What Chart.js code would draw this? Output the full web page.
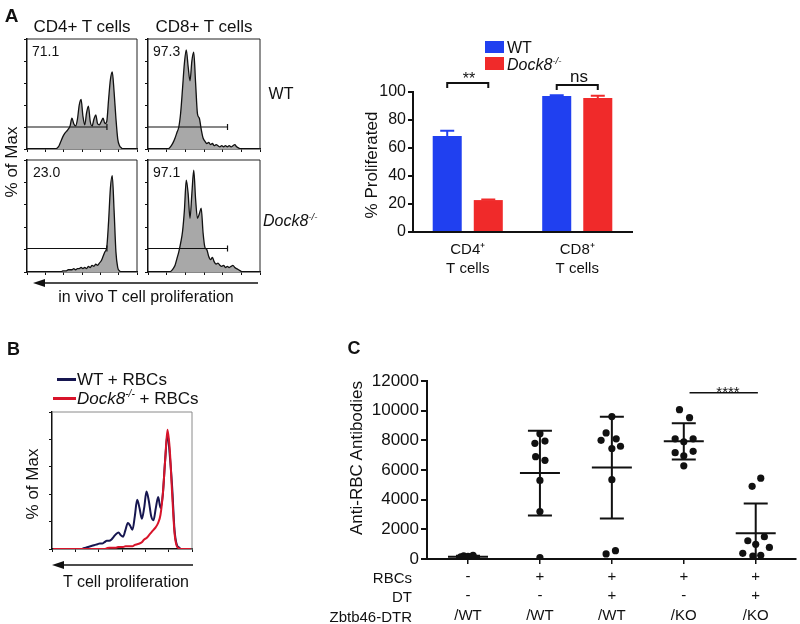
<!DOCTYPE html>
<html><head><meta charset="utf-8">
<script src="https://cdn.jsdelivr.net/npm/chart.js@4.4.1/dist/chart.umd.min.js"></script>
<style>
html,body{margin:0;padding:0;background:#fff;}
#root{position:relative;width:800px;height:624px;overflow:hidden;font-family:'Liberation Sans',Arial,sans-serif;color:#111;}
canvas{position:absolute;left:0;top:0;}
.t{position:absolute;white-space:nowrap;line-height:1;}
.c{transform:translate(-50%,-50%);}
.l{transform:translate(0,-50%);}
.r{transform:translate(-100%,-50%);}
.rot{transform:translate(-50%,-50%) rotate(-90deg);}
.b{font-weight:bold;}
sup{font-size:0.6em;vertical-align:0.65em;line-height:0;}
.sw{position:absolute;}
svg{position:absolute;left:0;top:0;}
</style></head>
<body><div id="root">
<canvas id="h1" width="800" height="624"></canvas>
<canvas id="h2" width="800" height="624"></canvas>
<canvas id="h3" width="800" height="624"></canvas>
<canvas id="h4" width="800" height="624"></canvas>
<canvas id="bars" width="800" height="624"></canvas>
<canvas id="hb" width="800" height="624"></canvas>
<canvas id="dots" width="800" height="624"></canvas>
<svg width="800" height="624">
  <line x1="36" y1="283" x2="258" y2="283" stroke="#111" stroke-width="1.5"/>
  <polygon points="33,283 45,279 45,287" fill="#111"/>
  <line x1="55" y1="565" x2="193" y2="565" stroke="#111" stroke-width="1.5"/>
  <polygon points="52,565 64,561 64,569" fill="#111"/>
</svg>
<!-- Panel A text -->
<div class="t c b" style="left:11.5px;top:15px;font-size:19px">A</div>
<div class="t c" style="left:82px;top:26px;font-size:17px">CD4+ T cells</div>
<div class="t c" style="left:204px;top:26px;font-size:17px">CD8+ T cells</div>
<div class="t l" style="left:32px;top:51px;font-size:14px">71.1</div>
<div class="t l" style="left:153px;top:51px;font-size:14px">97.3</div>
<div class="t l" style="left:33px;top:172px;font-size:14px">23.0</div>
<div class="t l" style="left:153px;top:172px;font-size:14px">97.1</div>
<div class="t c" style="left:281px;top:94px;font-size:16px">WT</div>
<div class="t l" style="left:263px;top:221px;font-size:16px"><i>Dock8<sup>-/-</sup></i></div>
<div class="t rot" style="left:11px;top:162px;font-size:17px">% of Max</div>
<div class="t c" style="left:146px;top:297px;font-size:16px">in vivo T cell proliferation</div>
<!-- bar chart text -->
<div class="t rot" style="left:371px;top:165px;font-size:17px">% Proliferated</div>
<div class="sw" style="left:485px;top:41px;width:19px;height:12px;background:#2040f0"></div>
<div class="t l" style="left:507px;top:47.5px;font-size:16px">WT</div>
<div class="sw" style="left:485px;top:57px;width:19px;height:13px;background:#f02a2a"></div>
<div class="t l" style="left:507px;top:65px;font-size:16px"><i>Dock8<sup>-/-</sup></i></div>
<div class="t c" style="left:469px;top:79px;font-size:16px">**</div>
<div class="t c" style="left:579px;top:76px;font-size:17px">ns</div>
<!-- Panel B text -->
<div class="t c b" style="left:13.5px;top:349px;font-size:18px">B</div>
<div class="sw" style="left:57px;top:378px;width:19px;height:3px;background:#161650"></div>
<div class="t l" style="left:77px;top:379px;font-size:17px">WT + RBCs</div>
<div class="sw" style="left:53px;top:397px;width:23px;height:3px;background:#d8142a"></div>
<div class="t l" style="left:77px;top:398px;font-size:17px"><i>Dock8<sup>-/-</sup></i> + RBCs</div>
<div class="t rot" style="left:32px;top:484px;font-size:17px">% of Max</div>
<div class="t c" style="left:126px;top:582px;font-size:16px">T cell proliferation</div>
<!-- Panel C text -->
<div class="t c b" style="left:354px;top:348px;font-size:18px">C</div>
<div class="t rot" style="left:356px;top:458px;font-size:17px">Anti-RBC Antibodies</div>
<div class="t r" style="left:412px;top:576.5px;font-size:15px">RBCs</div>
<div class="t r" style="left:412px;top:596px;font-size:15px">DT</div>
<div class="t r" style="left:412px;top:615.5px;font-size:15px">Zbtb46-DTR</div>
<div class="t c" style="left:728px;top:391px;font-size:15px">****</div>
</div>
<script>
// ---------- DATA ----------
// Panel A flow histograms (% of max per fluorescence bin, 60 bins)
const cd4WT = [0,0,0,0,0,0,0,0,0,0,0,0,0,0,0,0,1,3,7,11,14,16,18,21,28,23,21,27,40,45,30,22,33,39,25,21,27,31,23,22,25,28,23,25,45,63,70,52,28,9,3,1,0,0,0,0,0,0,0,0];
const cd8WT = [0,0,0,0,0,0,0,0,0,0,0,1,3,6,10,15,20,33,55,78,90,75,62,80,88,60,32,28,18,10,7,5,6,4,5,3,4,3,2,3,2,3,2,3,2,3,4,2,1,0,0,0,0,0,0,0,0,0,0,0];
const cd4KO = [0,0,0,0,0,0,0,0,0,0,0,0,0,0,0,0,0,0,0,1,1,1,2,2,2,3,2,3,3,4,3,4,3,5,4,6,5,7,6,8,10,14,18,22,45,75,86,55,18,4,1,0,0,0,0,0,0,0,0,0];
const cd8KO = [0,0,0,0,0,0,0,0,0,0,0,0,1,3,6,12,18,26,36,55,82,70,48,70,91,65,48,52,57,35,22,20,14,11,13,9,7,8,6,5,6,4,5,4,5,6,4,3,2,1,0,0,0,0,0,0,0,0,0,0];
const histPercents = ["71.1","97.3","23.0","97.1"];
// gates: [end bin, level %]
const gateCd4WT = [43.6, 20];
const gateCd8WT = [42.6, 20];
const gateCd4KO = [43.6, 21];
const gateCd8KO = [42.6, 21];

// Panel A bar chart
const barCategories = [["CD4\u207A","T cells"],["CD8\u207A","T cells"]];
const wtPct = [68.5, 97.2];
const wtErr = [3.8, 0.4];
const koPct = [22.8, 95.8];
const koErr = [0.5, 1.6];
const bracketLevels = [106.4, 105];

// Panel B histograms
const wtRBC = [0,0,0,0,0,0,0,0,0,0,0,0,0,0.5,1,1.5,2,2.5,3,3.5,4,4,5,6,6,7,9,11,12,10,9,14,19,17,14,24,36,30,22,30,42,35,24,21,30,38,30,40,65,84,68,45,14,3,1,0,0,0,0,0];
const koRBC = [0,0,0,0,0,0,0,0,0,0,0,0,0,0,0,0,0,0,0,0,0,0,0,0.5,1,1,1,1,1.5,1.5,1.5,2,2,2,2,3,3.5,4,5,7,8,10,12,14,16,19,25,40,65,87,72,40,12,2,0.5,0,0,0,0,0];

// Panel C
const cRBC = ['-','+','+','+','+'];
const cDT = ['-','-','+','-','+'];
const cGeno = ['/WT','/WT','/WT','/KO','/KO'];
const g1Values = [150,220,80,180,120,250,60];
const g1Jitter = [-0.1,-0.06,-0.02,0,0.03,0.07,0.1];
const g2Values = [8450,7800,7950,6900,6650,5300,3200,100];
const g2Jitter = [0,-0.07,0.07,-0.06,0.07,0,0,0];
const g3Values = [9600,8500,8000,8100,7600,7450,5350,340,560];
const g3Jitter = [0,-0.08,-0.15,0.06,0.12,0,0,-0.08,0.05];
const g4Values = [10070,9530,8100,7900,8100,7170,6960,7260,6280];
const g4Jitter = [-0.06,0.08,-0.12,0,0.13,-0.12,0,0.13,0];
const g5Values = [5450,4900,1230,1500,990,780,380,200,250];
const g5Jitter = [0.07,-0.05,-0.11,0.12,0,0.19,-0.18,-0.04,0.07];
const sigSpan = [3.08, 4.03];
const sigLevel = 11200;

// ---------- STYLE ----------
Chart.defaults.font.family = "'Liberation Sans', Arial, sans-serif";
Chart.defaults.color = '#111';
const BLUE = '#2040f0', RED = '#f02a2a', INK = '#111';

const framePlugin = {id:'frame', afterDraw(chart, a, o){
  if(!o || !o.color) return;
  const {ctx, chartArea:{left,top,right,bottom}} = chart;
  ctx.save(); ctx.strokeStyle=o.color; ctx.lineWidth=o.width||1;
  ctx.beginPath(); ctx.moveTo(left,top); ctx.lineTo(right,top); ctx.lineTo(right,bottom); ctx.stroke(); ctx.restore();
}};
const gatePlugin = {id:'gate', afterDatasetsDraw(chart, a, o){
  if(!o || o.end == null) return;
  const {ctx, scales:{x,y}} = chart;
  const x0 = x.getPixelForValue(0), x1 = x.getPixelForValue(o.end), yy = y.getPixelForValue(o.level);
  ctx.save(); ctx.strokeStyle=INK; ctx.lineWidth=1.2;
  ctx.beginPath(); ctx.moveTo(x0,yy); ctx.lineTo(x1,yy); ctx.moveTo(x1,yy-3); ctx.lineTo(x1,yy+3); ctx.stroke(); ctx.restore();
}};

function histChart(id, datasets, box, frameColor, gate){
  const pad = {left: box[0]-4, top: box[1], right: 800-box[2], bottom: 624-box[3]-4};
  return new Chart(document.getElementById(id), {
    type:'line',
    data:{datasets},
    plugins:[framePlugin, gatePlugin],
    options:{responsive:false, animation:false, events:[], layout:{padding:pad},
      plugins:{legend:{display:false}, tooltip:{enabled:false}, frame:{color:frameColor, width:1},
        gate: gate ? {end:gate[0], level:gate[1]} : {}},
      scales:{
        x:{type:'linear', min:0, max:60, ticks:{display:false, stepSize:10},
           grid:{drawOnChartArea:false, tickLength:3, color:INK}, border:{color:INK, width:1.5},
           afterFit:s=>{s.height=4;}},
        y:{min:0, max:100, ticks:{display:false, stepSize:20},
           grid:{drawOnChartArea:false, tickLength:3, color:INK}, border:{color:INK, width:1.5},
           afterFit:s=>{s.width=4;}}
      }}
  });
}
function filledHist(vals){
  return {data: vals.map((v,i)=>({x:i+0.5, y:v})), fill:'origin', backgroundColor:'#a8a8a8',
          borderColor:INK, borderWidth:1.3, pointRadius:0, cubicInterpolationMode:'monotone'};
}
histChart('h1', [filledHist(cd4WT)], [27,39,137,149], '#222', gateCd4WT);
histChart('h2', [filledHist(cd8WT)], [148,39,260,149], '#222', gateCd8WT);
histChart('h3', [filledHist(cd4KO)], [27,160,137,272], '#222', gateCd4KO);
histChart('h4', [filledHist(cd8KO)], [148,160,260,272], '#222', gateCd8KO);

// Panel B
histChart('hb', [
  {data: koRBC.map((v,i)=>({x:i+0.5,y:v})), borderColor:'#d8142a', borderWidth:2, pointRadius:0, fill:false, cubicInterpolationMode:'monotone', order:0},
  {data: wtRBC.map((v,i)=>({x:i+0.5,y:v})), borderColor:'#161650', borderWidth:2, pointRadius:0, fill:false, cubicInterpolationMode:'monotone', order:1}
], [52,412,192,549], '#8a8a8a', null);

// Panel A bars
const errPlugin = {id:'errbars', afterDatasetsDraw(chart, a, o){
  const {ctx} = chart; const y = chart.scales.y;
  chart.data.datasets.forEach((ds,i)=>{
    chart.getDatasetMeta(i).data.forEach((bar,j)=>{
      const top = y.getPixelForValue(ds.data[j] + o.errors[i][j]);
      ctx.save(); ctx.strokeStyle=ds.backgroundColor; ctx.lineWidth=2;
      ctx.beginPath(); ctx.moveTo(bar.x, bar.y); ctx.lineTo(bar.x, top);
      ctx.moveTo(bar.x-7, top); ctx.lineTo(bar.x+7, top); ctx.stroke(); ctx.restore();
    });
  });
}};
const bracketPlugin = {id:'brackets', afterDatasetsDraw(chart, a, o){
  const {ctx} = chart; const y = chart.scales.y;
  const m0 = chart.getDatasetMeta(0), m1 = chart.getDatasetMeta(1);
  o.levels.forEach((lv,j)=>{
    const x1 = m0.data[j].x, x2 = m1.data[j].x, yy = y.getPixelForValue(lv);
    ctx.save(); ctx.strokeStyle=INK; ctx.lineWidth=2;
    ctx.beginPath(); ctx.moveTo(x1,yy+5); ctx.lineTo(x1,yy); ctx.lineTo(x2,yy); ctx.lineTo(x2,yy+5); ctx.stroke(); ctx.restore();
  });
}};
new Chart(document.getElementById('bars'), {
  type:'bar',
  data:{labels:barCategories, datasets:[
    {label:'WT', data:wtPct, backgroundColor:BLUE, categoryPercentage:0.75, barPercentage:0.707},
    {label:'Dock8-/-', data:koPct, backgroundColor:RED, categoryPercentage:0.75, barPercentage:0.707}
  ]},
  plugins:[errPlugin, bracketPlugin],
  options:{responsive:false, animation:false, events:[], layout:{padding:{left:373, top:92, right:168, bottom:347}},
    plugins:{legend:{display:false}, tooltip:{enabled:false}, errbars:{errors:[wtErr, koErr]}, brackets:{levels:bracketLevels}},
    scales:{
      x:{grid:{display:false, drawTicks:false}, border:{color:INK, width:2},
         ticks:{font:{size:15, lineHeight:1.3}, color:INK, padding:8}, afterFit:s=>{s.height=45;}},
      y:{min:0, max:100, ticks:{stepSize:20, font:{size:16}, color:INK, padding:2},
         grid:{drawOnChartArea:false, tickLength:5, color:INK, lineWidth:2}, border:{color:INK, width:2},
         afterFit:s=>{s.width=40;}}
    }}
});

// Panel C
const groups = [g1Values, g2Values, g3Values, g4Values, g5Values];
const jitters = [g1Jitter, g2Jitter, g3Jitter, g4Jitter, g5Jitter];
const meanSdPlugin = {id:'meansd', afterDatasetsDraw(chart){
  const {ctx, scales:{x,y}, chartArea} = chart;
  ctx.save(); ctx.beginPath(); ctx.rect(chartArea.left, chartArea.top-10, chartArea.width, chartArea.height+10); ctx.clip();
  ctx.strokeStyle=INK; ctx.lineWidth=2;
  groups.forEach((vals,g)=>{
    const n = vals.length;
    const mean = vals.reduce((s,v)=>s+v,0)/n;
    const sd = Math.sqrt(vals.reduce((s,v)=>s+(v-mean)*(v-mean),0)/(n-1));
    const cx = x.getPixelForValue(g);
    const ym = y.getPixelForValue(mean), yh = y.getPixelForValue(mean+sd), yl = y.getPixelForValue(mean-sd);
    ctx.beginPath();
    ctx.moveTo(cx-20, ym); ctx.lineTo(cx+20, ym);
    ctx.moveTo(cx, yh); ctx.lineTo(cx, yl);
    ctx.moveTo(cx-12, yh); ctx.lineTo(cx+12, yh);
    ctx.moveTo(cx-12, yl); ctx.lineTo(cx+12, yl);
    ctx.stroke();
  });
  ctx.restore();
  ctx.save(); ctx.strokeStyle=INK; ctx.lineWidth=1.5;
  const ys = y.getPixelForValue(sigLevel);
  ctx.beginPath(); ctx.moveTo(x.getPixelForValue(sigSpan[0]), ys); ctx.lineTo(x.getPixelForValue(sigSpan[1]), ys); ctx.stroke();
  ctx.restore();
}};
new Chart(document.getElementById('dots'), {
  type:'scatter',
  data:{datasets: groups.map((vals,g)=>({
    data: vals.map((v,k)=>({x:g + jitters[g][k], y:v})),
    backgroundColor:INK, borderColor:INK, borderWidth:0, pointRadius:3.6
  }))},
  plugins:[meanSdPlugin],
  options:{responsive:false, animation:false, events:[], layout:{padding:{left:367, top:381, right:0, bottom:3}},
    plugins:{legend:{display:false}, tooltip:{enabled:false}},
    scales:{
      x:{type:'linear', min:-0.57, max:4.56,
         afterBuildTicks:s=>{ s.ticks = cGeno.map((_,i)=>({value:i})); },
         ticks:{callback:(v)=>[cRBC[v], cDT[v], cGeno[v]], font:{size:15, lineHeight:1.3}, color:INK, padding:3, maxRotation:0, autoSkip:false},
         grid:{drawOnChartArea:false, tickLength:5, color:INK, lineWidth:1.5}, border:{color:INK, width:2},
         afterFit:s=>{s.height=62;}},
      y:{min:0, max:12000, ticks:{stepSize:2000, font:{size:17}, color:INK, padding:2, callback:v=>String(v)},
         grid:{drawOnChartArea:false, tickLength:6, color:INK, lineWidth:2}, border:{color:INK, width:2},
         afterFit:s=>{s.width=60;}}
    }}
});
</script>
</body></html>
